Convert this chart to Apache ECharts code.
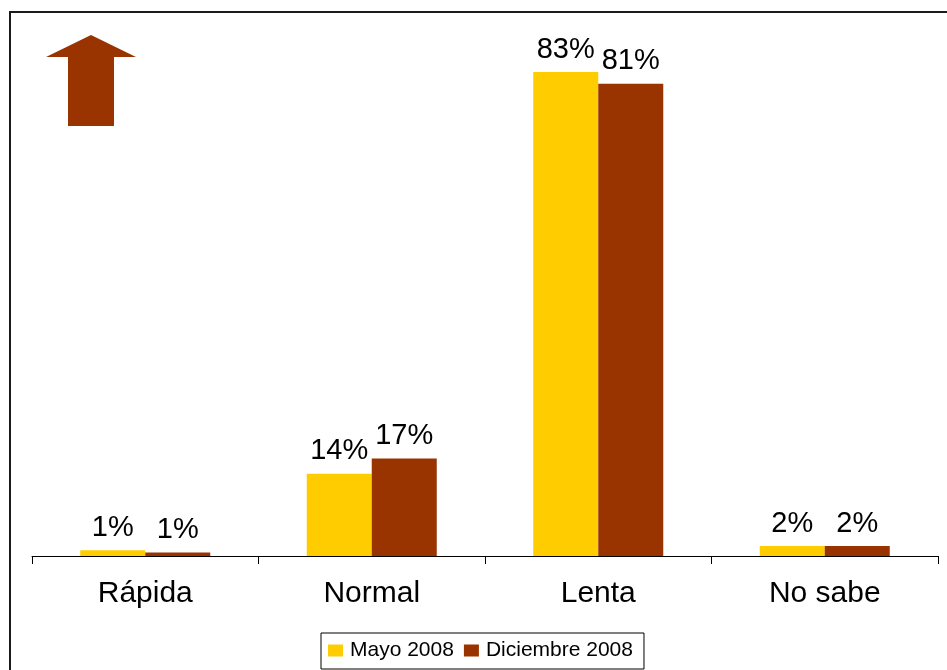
<!DOCTYPE html>
<html>
<head>
<meta charset="utf-8">
<script src="https://cdn.jsdelivr.net/npm/echarts@6/dist/echarts.min.js"></script>
<style>html,body{margin:0;padding:0;background:#fff;}#c{width:947px;height:670px;}</style>
</head>
<body>
<div id="c"></div>
<script>
const categories = ['Rápida', 'Normal', 'Lenta', 'No sabe'];
const seriesNames = ['Mayo 2008', 'Diciembre 2008'];
const mayo2008 = [1.0, 14.1, 83.0, 1.7];
const diciembre2008 = [0.6, 16.7, 81.0, 1.7];
const colors = ['#FFCC00', '#993300'];
const FONT = '"Liberation Sans", Arial, sans-serif';

const chart = echarts.init(document.getElementById('c'));
const labelCfg = {
  show: true, position: 'top', distance: 8,
  fontFamily: FONT, fontSize: 29, color: '#000',
  formatter: p => Math.round(p.value) + '%'
};
chart.setOption({
  animation: false,
  backgroundColor: '#fff',
  color: colors,
  grid: { left: 32, right: 9, top: 31.2, bottom: 114, containLabel: false },
  xAxis: {
    type: 'category', data: categories,
    axisLine: { lineStyle: { color: '#000', width: 1 } },
    axisTick: { show: true, length: 8, lineStyle: { color: '#000' } },
    axisLabel: { fontFamily: FONT, fontSize: 30, color: '#000', margin: 23 }
  },
  yAxis: { type: 'value', min: 0, max: 90, show: false, splitLine: { show: false } },
  legend: {
    left: 321, top: 633, orient: 'horizontal',
    data: seriesNames,
    icon: 'rect', itemWidth: 15, itemHeight: 12, itemGap: 10,
    padding: [7, 11, 8, 7],
    borderColor: '#000', borderWidth: 1,
    textStyle: { fontFamily: FONT, fontSize: 21, color: '#000', padding: [0, 0, 0, 2] }
  },
  graphic: [
    { type: 'rect', shape: { x: 10, y: 12, width: 1000, height: 700 },
      style: { fill: 'none', stroke: '#1a1a1a', lineWidth: 2 }, silent: true },
    { type: 'polygon',
      shape: { points: [[91,35],[136,57],[114,57],[114,126],[68,126],[68,57],[46,57]] },
      style: { fill: '#993300' }, silent: true }
  ],
  series: [
    { name: seriesNames[0], type: 'bar', data: mayo2008, barWidth: 65, barGap: '0%', label: labelCfg },
    { name: seriesNames[1], type: 'bar', data: diciembre2008, barWidth: 65, barGap: '0%', label: labelCfg }
  ]
});
</script>
</body>
</html>
